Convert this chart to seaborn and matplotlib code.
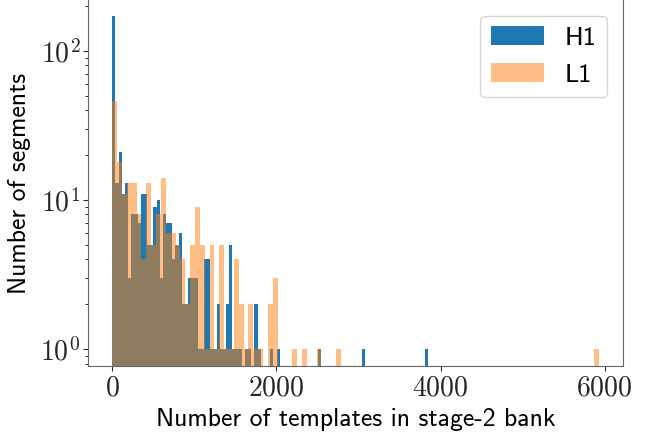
import numpy as np
import pandas as pd
import matplotlib
matplotlib.use('Agg')
import matplotlib.pyplot as plt
import seaborn as sns
from matplotlib.ticker import FuncFormatter, LogLocator, NullFormatter

# largest value in each detector sets the 100-bin range
h1_max = 3850
l1_max = 5927

# counts per bin (100 equal bins from 0 to the max)
h1_counts = [172, 13, 21, 11, 13, 3, 8, 8, 7, 11, 11, 5, 5, 9, 10, 3, 8, 7, 7, 4,
             5, 6, 2, 2, 3, 3, 3, 1, 1, 4, 4, 1, 1, 2, 1, 1, 2, 5, 1, 1,
             1, 0, 1, 1, 0, 2, 1, 0, 0, 0, 1, 0, 1, 0, 0, 0, 0, 0, 0, 0,
             0, 0, 0, 0, 0, 1, 0, 0, 0, 0, 0, 0, 0, 0, 0, 0, 0, 0, 0, 1,
             0, 0, 0, 0, 0, 0, 0, 0, 0, 0, 0, 0, 0, 0, 0, 0, 0, 0, 0, 1]
l1_counts = [46, 18, 11, 13, 13, 8, 4, 13, 5, 8, 14, 6, 6, 5, 4, 2, 5, 9, 5, 1,
             5, 1, 5, 1, 1, 4, 2, 1, 2, 1, 1, 0, 2, 3, 0, 0, 0, 1, 0, 1,
             0, 0, 1, 0, 0, 0, 1, 0, 0, 0, 0, 0, 0, 0, 0, 0, 0, 0, 0, 0,
             0, 0, 0, 0, 0, 0, 0, 0, 0, 0, 0, 0, 0, 0, 0, 0, 0, 0, 0, 0,
             0, 0, 0, 0, 0, 0, 0, 0, 0, 0, 0, 0, 0, 0, 0, 0, 0, 0, 0, 1]

x_ticks = [0, 2000, 4000, 6000]

plt.rcParams['font.family'] = ['cmss10', 'DejaVu Sans']
plt.rcParams['mathtext.fontset'] = 'cm'
plt.rcParams['axes.unicode_minus'] = False

h1_edges = np.linspace(0, h1_max, len(h1_counts) + 1)
l1_edges = np.linspace(0, l1_max, len(l1_counts) + 1)
# one sample per segment, placed at the middle of its bin
h1_df = pd.DataFrame({'templates': np.repeat((h1_edges[:-1] + h1_edges[1:]) / 2, h1_counts)})
l1_df = pd.DataFrame({'templates': np.repeat((l1_edges[:-1] + l1_edges[1:]) / 2, l1_counts)})

fig = plt.figure(figsize=(6.6, 4.43), dpi=100)
ax = fig.add_axes([0.1333, 0.1738, 0.8106, 0.8262])

sns.histplot(data=h1_df, x='templates', bins=h1_edges, color='#1f77b4',
             alpha=1, linewidth=0, label='H1', ax=ax)
sns.histplot(data=l1_df, x='templates', bins=l1_edges, color='#ff7f0e',
             alpha=0.5, linewidth=0, label='L1', ax=ax)

ax.set_yscale('log')
ax.set_ylim(0.77, 219)
ax.set_xlim(-296, 6223)

ax.set_xticks(x_ticks)
ax.xaxis.set_major_formatter(FuncFormatter(lambda v, p: r'$%d$' % v))
ax.yaxis.set_major_locator(LogLocator(base=10))
ax.yaxis.set_minor_locator(LogLocator(base=10, subs=np.arange(2, 10)))
ax.yaxis.set_major_formatter(FuncFormatter(lambda v, p: r'$10^{%d}$' % round(np.log10(v))))
ax.yaxis.set_minor_formatter(NullFormatter())
ax.tick_params(labelsize=20, colors='0.15')
ax.tick_params(axis='y', pad=2)

ax.spines['top'].set_visible(False)
for s in ['left', 'right', 'bottom']:
    ax.spines[s].set_color('0.4')
    ax.spines[s].set_linewidth(0.8)

ax.set_xlabel('Number of templates in stage-2 bank', fontsize=18.5, labelpad=5)
ax.set_ylabel('Number of segments', fontsize=18.5, labelpad=7)

ax.legend(fontsize=19, loc='upper right', borderaxespad=0.6)

fig.savefig('out.png', dpi=100)
